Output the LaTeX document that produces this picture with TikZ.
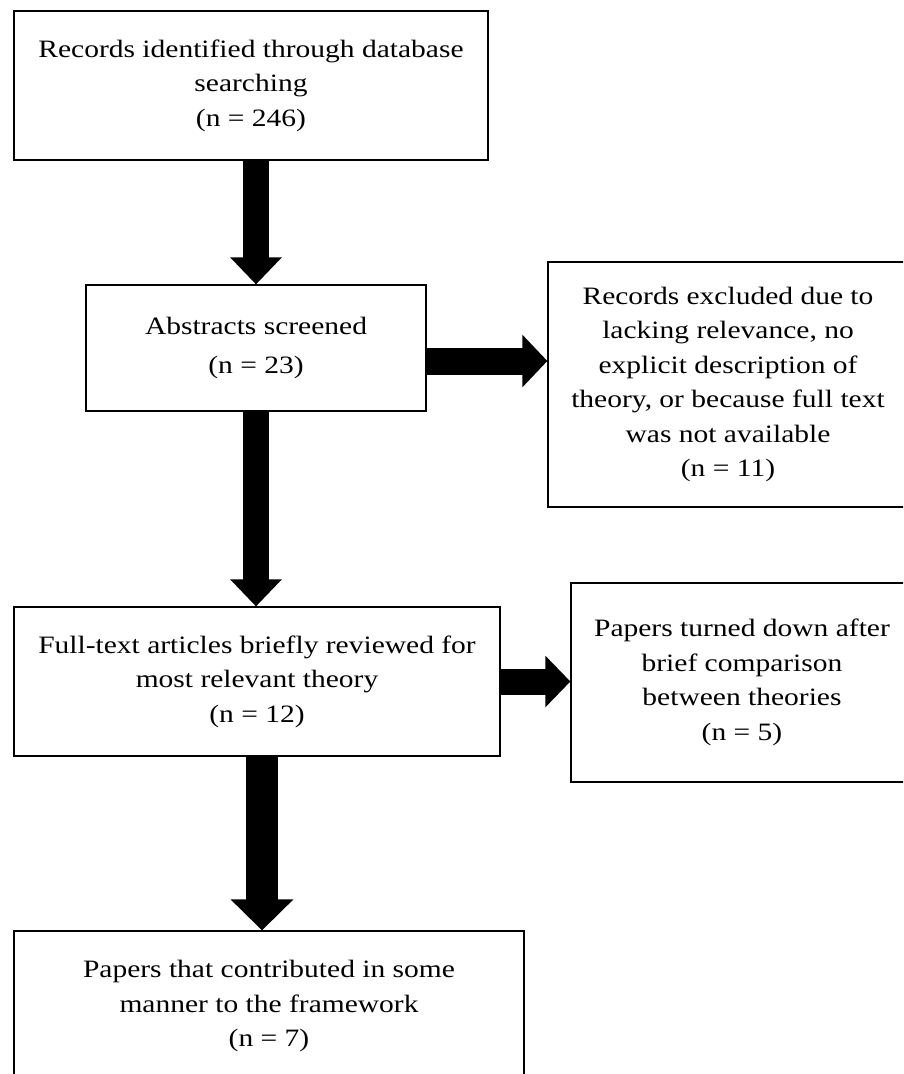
\documentclass[tikz,border=0pt]{standalone}
\usepackage{fontspec}
\newfontfamily\tnr{Liberation Serif}[FakeStretch=1.18]
\usetikzlibrary{arrows.meta}
\begin{document}
\begin{tikzpicture}[x=1pt,y=-1pt,
  box/.style={draw, line width=1.2pt, rectangle, inner sep=0pt, align=center,
    font=\tnr\fontsize{25}{34.5}\selectfont},
  blk/.style={line width=26pt, -{Triangle[width=50pt,length=27pt]}}]
\useasboundingbox (0,0) rectangle (903,1074);
\clip (0,0) rectangle (903,1074);
\node[box, minimum width=474pt, minimum height=149pt] (b1) at (251,85.5)
  {Records identified through database\\searching\\(n = 246)};
\node[box, minimum width=340pt, minimum height=126pt] (b2) at (256,348)
  {Abstracts screened\\[4pt](n = 23)};
\node[box, minimum width=360pt, minimum height=245pt] (b3) at (728,384.5)
  {Records excluded due to\\lacking relevance, no\\explicit description of\\theory, or because full text\\was not available\\(n = 11)};
\node[box, minimum width=486pt, minimum height=149pt] (b4) at (257,681.5)
  {Full-text articles briefly reviewed for\\most relevant theory\\(n = 12)};
\node[box, minimum width=342pt, minimum height=199pt] (b5) at (742,682.5)
  {Papers turned down after\\brief comparison\\between theories\\(n = 5)};
\node[box, minimum width=510pt, minimum height=150pt] (b6) at (269,1006)
  {Papers that contributed in some\\manner to the framework\\(n = 7)};
\draw[blk] (b1.south -| b2.north) -- (b2.north);
\draw[blk] (b2.south) -- (b2.south |- b4.north);
\coordinate (a3) at ([xshift=5pt]b4.south);
\draw[blk, line width=32pt, -{Triangle[width=61pt,length=31pt]}] (a3) -- (a3 |- b6.north);
\coordinate (a1) at ([yshift=-13pt]b2.east);
\draw[blk, line width=27pt, -{Triangle[width=51pt,length=25pt]}] (a1) -- (a1 -| b3.west);
\draw[blk, -{Triangle[width=50pt,length=25pt]}] (b4.east) -- (b4.east -| b5.west);
\end{tikzpicture}
\end{document}
